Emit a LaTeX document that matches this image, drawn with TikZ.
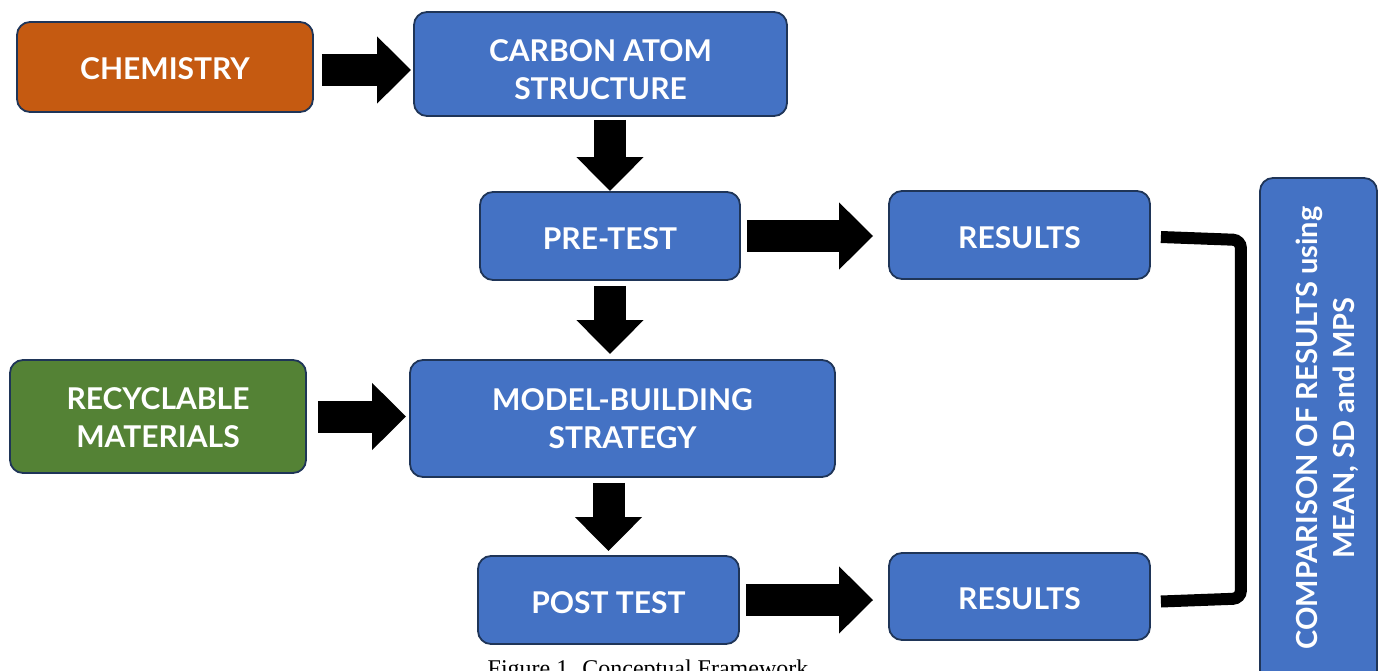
\documentclass[tikz,border=0pt]{standalone}
\usepackage{fontspec}
\setmainfont{Lato}
\newfontfamily\capfont{Liberation Serif}
\usetikzlibrary{arrows.meta,calc}
\definecolor{boxblue}{HTML}{4472C4}
\definecolor{boxorange}{HTML}{C55A11}
\definecolor{boxgreen}{HTML}{548235}
\definecolor{boxedge}{HTML}{1F3558}
\begin{document}
\begin{tikzpicture}[x=1pt,y=-1pt,
  box/.style={draw=boxedge, line width=1.8pt, rounded corners=13pt, fill=boxblue,
    inner sep=0pt},
  txt/.style={text=white, align=center, inner sep=0pt,
    font=\fontsize{30}{38}\selectfont\bfseries},
  blk/.style={line width=32pt, draw=black,
    -{Triangle[length=34pt,width=65pt]}}
]
\useasboundingbox (0,0) rectangle (1378,671);
\begin{scope}
\clip (0,0) rectangle (1378,671);
\node[box, fill=boxorange, minimum width=296pt, minimum height=90pt] (chem) at (165,67) {};
\node[box, minimum width=373pt, minimum height=104pt] (carbon) at (600.5,64) {};
\node[box, minimum width=260pt, minimum height=88pt] (pre) at (610,236) {};
\node[box, minimum width=261pt, minimum height=88pt] (res1) at (1019.5,235) {};
\node[box, minimum width=425pt, minimum height=117pt] (model) at (622.5,418.5) {};
\node[box, fill=boxgreen, minimum width=296pt, minimum height=113pt] (recyc) at (158,416.5) {};
\node[box, minimum width=261pt, minimum height=88pt] (post) at (608.5,600) {};
\node[box, minimum width=261pt, minimum height=87pt] (res2) at (1019.5,596.5) {};
\node[box, minimum width=117pt, minimum height=542pt] (comp) at (1318.5,449) {};
\node[txt] (chemT) at ($(chem)+(0,2)$) {CHEMISTRY};
\node[txt] (carbonT) at ($(carbon)+(0,5.5)$) {CARBON ATOM\\STRUCTURE};
\node[txt] (preT) at ($(pre)+(0,2.5)$) {PRE-TEST};
\node[txt] (res1T) at ($(res1)+(0,2.5)$) {RESULTS};
\node[txt] (modelT) at ($(model)+(0,0.5)$) {MODEL-BUILDING\\STRATEGY};
\node[txt] (recycT) at ($(recyc)+(0,1.5)$) {RECYCLABLE\\MATERIALS};
\node[txt] (postT) at ($(post)+(0,2.5)$) {POST TEST};
\node[txt] (res2T) at ($(res2)+(0,2)$) {RESULTS};
\node[txt, rotate=90, font=\fontsize{29}{37}\selectfont\bfseries] (compT) at (1327,428)
  {COMPARISON OF RESULTS using\\MEAN, SD and MPS};
\node[anchor=base, inner sep=0pt, font=\capfont\fontsize{24}{28}\selectfont] (caption) at (648,676) {Figure 1. Conceptual Framework};
\end{scope}
% block arrows
\draw[blk, shorten <=8pt, shorten >=2pt] ($(chem.east)+(0,3)$) -- ($(chem.east -| carbon.west)+(0,3)$);
\draw[blk, shorten <=3pt, shorten >=0pt] (pre.north |- carbon.south) -- (pre.north);
\draw[blk, shorten <=6pt, shorten >=15pt] (pre.east) -- (pre.east -| res1.west);
\draw[blk, shorten <=5pt, shorten >=5pt] (pre.south) -- (pre.south |- model.north);
\draw[blk, shorten <=11pt, shorten >=3pt] (recyc.east) -- (recyc.east -| model.west);
\draw[blk, shorten <=5pt, shorten >=4pt] (post.north |- model.south) -- (post.north);
\draw[blk, shorten <=6pt, shorten >=15pt] (post.east) -- (post.east -| res2.west);
% bracket
\coordinate (b1) at ($(res1.east)+(10,2)$);
\coordinate (b2) at ($(res2.east)+(10,5)$);
\draw[line width=12pt, rounded corners=8pt] (b1) -- ($(b1)+(80,3)$) -- ($(b2)+(80,-3)$) -- (b2);
\end{tikzpicture}
\end{document}
